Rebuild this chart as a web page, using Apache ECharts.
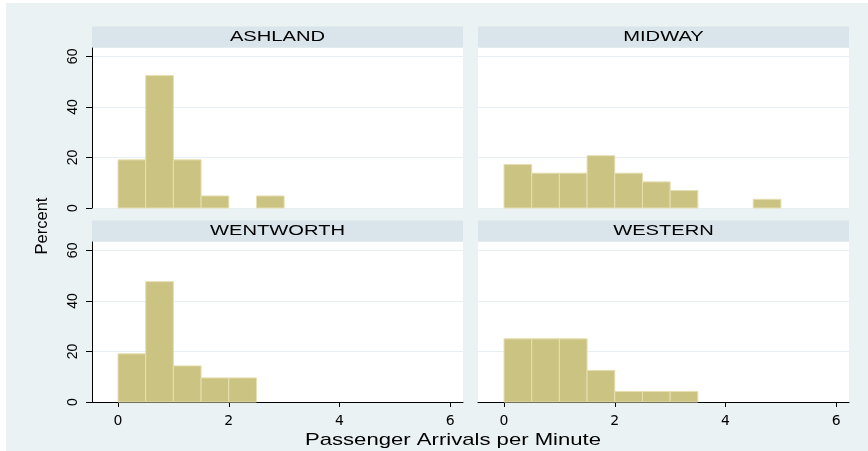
<!DOCTYPE html>
<html><head><meta charset="utf-8">
<script src="https://cdn.jsdelivr.net/npm/echarts@6/dist/echarts.min.js"></script>
<style>html,body{margin:0;padding:0;background:#fff}#c{width:868px;height:451px}</style>
</head><body><div id="c"></div>
<script>
// ---- data ----
const panels = ['ASHLAND', 'MIDWAY', 'WENTWORTH', 'WESTERN'];
const binStarts = [0, 0.5, 1, 1.5, 2, 2.5, 3, 3.5, 4, 4.5];
const binWidth = 0.5;
const ashland   = [19.05, 52.38, 19.05, 4.76, 0, 4.76, 0, 0, 0, 0];
const midway    = [17.24, 13.79, 13.79, 20.69, 13.79, 10.34, 6.90, 0, 0, 3.45];
const wentworth = [19.05, 47.62, 14.29, 9.52, 9.52, 0, 0, 0, 0, 0];
const western   = [25.0, 25.0, 25.0, 12.5, 4.17, 4.17, 4.17, 0, 0, 0];
const xTicks = [0, 2, 4, 6];
const yTicks = [0, 20, 40, 60];
const xTitle = 'Passenger Arrivals per Minute';
const yTitle = 'Percent';

// ---- layout ----
const PW = 371, PH = 160;
const lefts = [92, 478, 92, 478];
const tops = [48, 48, 242, 242];
const STRIP_H = 21;
const X_MIN = -0.47, X_MAX = 6.23, Y_MAX = 63.3;
const BAR_FILL = '#cbc381', BAR_EDGE = '#e5dfb2';
const BG = '#eaf2f3', STRIP = '#d9e5eb', GRIDLINE = '#e6eff1';
const FONT = '"Liberation Sans", Arial, sans-serif';

const seriesValues = [ashland, midway, wentworth, western];

function renderBar(params, api) {
  const p0 = api.coord([api.value(0), api.value(2)]);
  const p1 = api.coord([api.value(1), 0]);
  return {
    type: 'rect',
    shape: { x: p0[0], y: p0[1], width: p1[0] - p0[0], height: p1[1] - p0[1] },
    style: { fill: BAR_FILL, stroke: BAR_EDGE, lineWidth: 1 }
  };
}

const grid = [], xAxis = [], yAxis = [], series = [];
const graphic = [{
  type: 'rect', z: -100, silent: true,
  shape: { x: 6, y: 3, width: 862, height: 448 },
  style: { fill: BG }
}];

panels.forEach((name, i) => {
  const isLeft = (i % 2 === 0), isBottom = i >= 2;
  grid.push({ left: lefts[i], top: tops[i], width: PW, height: PH, show: true,
              backgroundColor: '#ffffff', borderWidth: 0, containLabel: false });
  xAxis.push({
    type: 'value', gridIndex: i, min: X_MIN, max: X_MAX,
    splitLine: { show: false },
    axisLine: { show: isBottom, onZero: false, lineStyle: { color: '#000', width: 1 } },
    axisTick: { show: isBottom, customValues: xTicks, length: 5, lineStyle: { color: '#000' } },
    axisLabel: { show: isBottom, customValues: xTicks, color: '#000', fontSize: 14,
                 fontFamily: '"DejaVu Sans", sans-serif', margin: 12 }
  });
  yAxis.push({
    type: 'value', gridIndex: i, min: 0, max: Y_MAX,
    splitLine: { show: true, lineStyle: { color: GRIDLINE, width: 1 } },
    axisLine: { show: isLeft, onZero: false, lineStyle: { color: '#000', width: 1 } },
    axisTick: { show: isLeft, customValues: yTicks, length: 6, lineStyle: { color: '#000' } },
    axisLabel: { show: isLeft, customValues: yTicks, rotate: 90, color: '#000', fontSize: 14,
                 fontFamily: FONT, margin: 12 }
  });
  const data = [];
  binStarts.forEach((s, k) => {
    const v = seriesValues[i][k];
    if (v > 0) data.push([s, s + binWidth, v]);
  });
  series.push({
    type: 'custom', name: name, xAxisIndex: i, yAxisIndex: i,
    renderItem: renderBar, encode: { x: [0, 1], y: 2 }, data: data, silent: true
  });
  // strip header
  graphic.push({
    type: 'rect', silent: true,
    shape: { x: lefts[i], y: tops[i] - STRIP_H - 0.5, width: PW, height: STRIP_H },
    style: { fill: STRIP }
  });
  graphic.push({
    type: 'text', silent: true, z: 10,
    x: lefts[i] + PW / 2, y: tops[i] - STRIP_H / 2 - 0.8, scaleX: 1.3,
    style: { text: name, x: 0, y: 0, align: 'center', verticalAlign: 'middle',
             fontSize: 15.5, fontFamily: FONT, fill: '#000' }
  });
});

// axis titles
graphic.push({
  type: 'text', silent: true, z: 10,
  x: 453, y: 440, scaleX: 1.3,
  style: { text: xTitle, x: 0, y: 0, align: 'center', verticalAlign: 'middle',
           fontSize: 17, fontFamily: FONT, fill: '#000' }
});
graphic.push({
  type: 'text', silent: true, z: 10,
  x: 42, y: 226, rotation: Math.PI / 2,
  style: { text: yTitle, x: 0, y: 0, align: 'center', verticalAlign: 'middle',
           fontSize: 16.5, fontFamily: FONT, fill: '#000' }
});

const chart = echarts.init(document.getElementById('c'), null, { renderer: 'canvas' });
chart.setOption({
  animation: false,
  backgroundColor: '#ffffff',
  grid: grid, xAxis: xAxis, yAxis: yAxis, series: series, graphic: graphic
});
</script></body></html>
